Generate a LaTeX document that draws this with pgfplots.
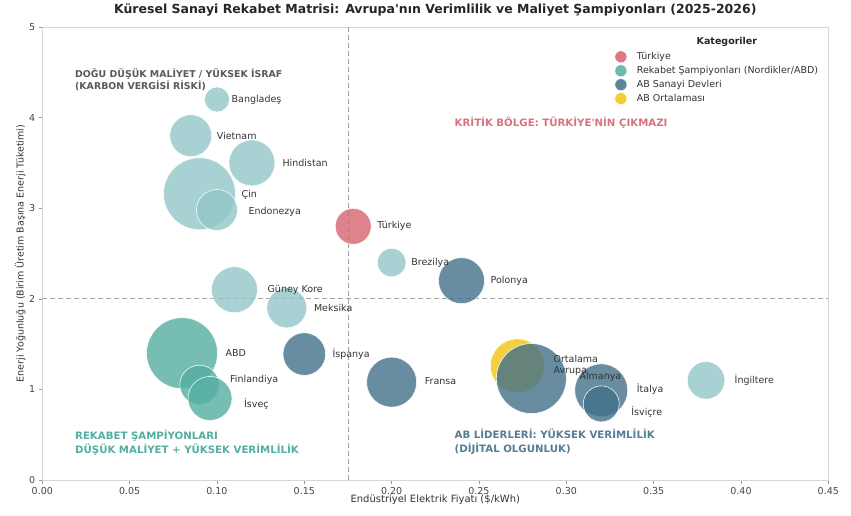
\documentclass[border=0pt]{standalone}
\usepackage{fontspec}
\setmainfont[Ligatures=TeXOff]{DejaVu Sans}
\usepackage{pgfplots}
\usepackage{pgfplotstable}
\pgfplotsset{compat=1.18}

\definecolor{eastc}{HTML}{92C6C8}
\definecolor{champc}{HTML}{54AEA1}
\definecolor{abc}{HTML}{42708A}
\definecolor{avgc}{HTML}{F1C40F}
\definecolor{trc}{HTML}{D6636F}
\definecolor{spinec}{HTML}{D6D6D6}
\definecolor{labc}{HTML}{333333}
\definecolor{tickc}{HTML}{444444}
\definecolor{refc}{HTML}{A0A0A0}

\pgfplotstableread{
x y r dx dy lbl
0.100 4.20 12.5 14.5 0 Bangladeş
0.085 3.80 21 26 0 Vietnam
0.120 3.50 23 30.5 0 Hindistan
0.090 3.16 36 42 -1.5 Çin
0.100 2.98 20.5 31.5 -1.5 Endonezya
0.200 2.40 14.3 19.5 0 Brezilya
0.110 2.10 23 33 0 {Güney Kore}
0.140 1.90 20 27 0 Meksika
0.380 1.10 18.8 28.5 0 İngiltere
}\easttable

\pgfplotstableread{
x y r dx dy lbl
0.080 1.40 35.5 43.5 0 ABD
0.090 1.05 19.7 30.5 4.5 Finlandiya
0.096 0.90 22 34 -5.5 İsveç
}\champtable

\pgfplotstableread{
x y r dx dy lbl
0.178 2.80 18 24 0 Türkiye
}\trtable

\pgfplotstableread{
x y r dx dy
0.272 1.26 27 36 0
}\avgtable

\pgfplotstableread{
x y r dx dy lbl
0.150 1.39 21.3 28 0 İspanya
0.240 2.20 23 29 0 Polonya
0.200 1.08 25 33 1 Fransa
0.280 1.12 35 48 2 Almanya
0.320 0.99 26.5 35.5 1.5 İtalya
0.320 0.84 18 30 -8.5 İsviçre
}\abtable

\pgfplotsset{
  bubble/.style={scatter, only marks, mark=*, forget plot,
    scatter/use mapped color={draw=white, line width=0.6pt, fill=#1, fill opacity=0.8, draw opacity=0.9},
    visualization depends on={\thisrow{r} \as \rad},
    scatter/@pre marker code/.append style={/tikz/mark size=\rad pt}},
  blabel/.style={only marks, mark=none, forget plot,
    visualization depends on={\thisrow{dx} \as \dx},
    visualization depends on={\thisrow{dy} \as \dy},
    every node near coord/.append style={anchor=west, xshift=\dx pt, yshift=\dy pt,
      font=\fontsize{9.5}{11}\selectfont, text=labc, inner sep=0pt}},
  legimg/.style={legend image code/.code={%
    \path[draw=none, fill=none] (0cm,-1pt) rectangle (0.74cm,1pt);
    \fill[draw=white, fill=#1, fill opacity=0.85] (0.25cm,0cm) circle (6pt);}},
}

\begin{document}
\begin{tikzpicture}
\begin{axis}[
  at={(0pt,0pt)}, anchor=south west,
  scale only axis, width=786pt, height=453pt,
  xmin=0, xmax=0.45, ymin=0, ymax=5,
  xtick={0,0.05,0.1,0.15,0.2,0.25,0.3,0.35,0.4,0.45},
  ytick={0,1,2,3,4,5},
  xticklabel style={/pgf/number format/.cd, fixed, fixed zerofill, precision=2, assume math mode=true},
  yticklabel style={/pgf/number format/.cd, fixed, precision=0, assume math mode=true},
  tick label style={font=\fontsize{9.5}{11}\selectfont, text=tickc},
  axis line style={draw=spinec, line width=0.9pt},
  tick style={draw=gray!80, line width=0.6pt},
  tick align=outside, major tick length=3.5pt, tick pos=left,
  title={Küresel Sanayi Rekabet Matrisi: Avrupa'nın Verimlilik ve Maliyet Şampiyonları (2025-2026)},
  title style={at={(axis description cs:0.5,1.0375)}, anchor=center, yshift=-6pt, font=\bfseries\fontsize{12.5}{14}\selectfont, text=black!85},
  xlabel={Endüstriyel Elektrik Fiyatı (\$/kWh)},
  xlabel style={at={(axis description cs:0.5,-0.044)}, anchor=center, font=\fontsize{10}{12}\selectfont, text=labc},
  ylabel={Enerji Yoğunluğu (Birim Üretim Başına Enerji Tüketimi)},
  ylabel style={at={(axis description cs:-0.028,0.5)}, anchor=center, font=\fontsize{9.5}{11}\selectfont, text=labc},
  legend style={at={(rel axis cs:0.723,0.953)}, anchor=north west, draw=none, fill=none,
    font=\fontsize{9.5}{10}\selectfont, text=labc, row sep=1.2pt},
  legend cell align=left,
]
% reference lines
\addplot[forget plot, refc, line width=0.8pt, dash pattern=on 5pt off 3pt] coordinates {(0.175,0) (0.175,5)};
\addplot[forget plot, refc, line width=0.8pt, dash pattern=on 5pt off 3pt] coordinates {(0,2) (0.45,2)};

% bubbles
\addplot[bubble=eastc] table[x=x,y=y] {\easttable};
\addplot[bubble=champc] table[x=x,y=y] {\champtable};
\addplot[bubble=trc] table[x=x,y=y] {\trtable};
\addplot[bubble=avgc] table[x=x,y=y] {\avgtable};
\addplot[bubble=abc] table[x=x,y=y] {\abtable};

% labels
\addplot[blabel, point meta=explicit symbolic, nodes near coords] table[x=x,y=y,meta=lbl] {\easttable};
\addplot[blabel, point meta=explicit symbolic, nodes near coords] table[x=x,y=y,meta=lbl] {\champtable};
\addplot[blabel, point meta=explicit symbolic, nodes near coords] table[x=x,y=y,meta=lbl] {\trtable};
\addplot[blabel, nodes near coords={Ortalama\\Avrupa}, every node near coord/.append style={align=left}] table[x=x,y=y] {\avgtable};
\addplot[blabel, point meta=explicit symbolic, nodes near coords] table[x=x,y=y,meta=lbl] {\abtable};

% legend
\addlegendimage{legimg=trc}
\addlegendentry{Türkiye}
\addlegendimage{legimg=champc}
\addlegendentry{Rekabet Şampiyonları (Nordikler/ABD)}
\addlegendimage{legimg=abc}
\addlegendentry{AB Sanayi Devleri}
\addlegendimage{legimg=avgc}
\addlegendentry{AB Ortalaması}

% annotations
\node[anchor=west, align=left, inner sep=0pt, font=\bfseries\fontsize{9.4}{11.8}\selectfont, text=black!65]
  at (axis cs:0.0187,4.415) {DOĞU DÜŞÜK MALİYET / YÜKSEK İSRAF\\(KARBON VERGİSİ RİSKİ)};
\node[anchor=west, align=left, inner sep=0pt, font=\bfseries\fontsize{10.2}{12}\selectfont, text=trc!90!white]
  at (axis cs:0.236,3.94) {KRİTİK BÖLGE: TÜRKİYE'NİN ÇIKMAZI};
\node[anchor=west, align=left, inner sep=0pt, font=\bfseries\fontsize{10.2}{14.2}\selectfont, text=champc]
  at (axis cs:0.0187,0.41) {REKABET ŞAMPİYONLARI\\DÜŞÜK MALİYET + YÜKSEK VERİMLİLİK};
\node[anchor=west, align=left, inner sep=0pt, font=\bfseries\fontsize{10.2}{14.2}\selectfont, text=abc!90!white]
  at (axis cs:0.236,0.42) {AB LİDERLERİ: YÜKSEK VERİMLİLİK\\(DİJİTAL OLGUNLUK)};
\node[font=\bfseries\fontsize{9.5}{11}\selectfont, text=black!85] at (rel axis cs:0.871,0.967) {Kategoriler};
\end{axis}
\pgfresetboundingbox
\path (-42.3pt,-35pt) rectangle (808.7pt,480pt);
\end{tikzpicture}
\end{document}
